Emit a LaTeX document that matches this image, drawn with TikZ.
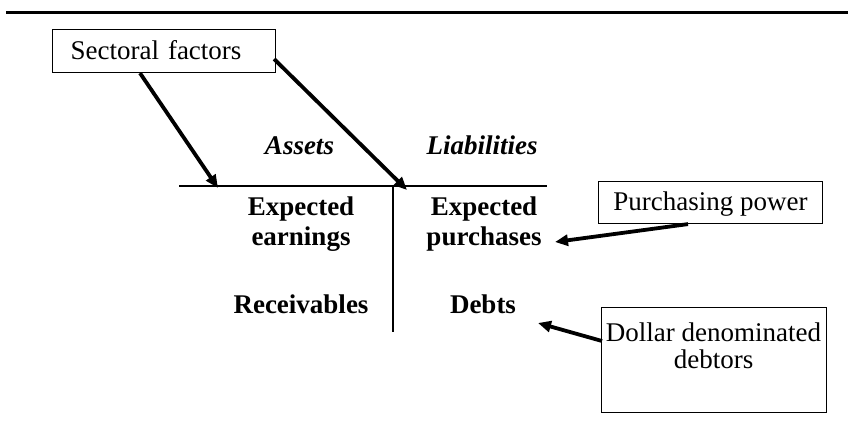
\documentclass[tikz,border=0pt]{standalone}
\usepackage{fontspec}
\setmainfont{Liberation Serif}
\usetikzlibrary{arrows.meta,calc}
\begin{document}
\begin{tikzpicture}[x=1pt,y=-1pt,
  every node/.style={inner sep=0pt, text=black},
  boxtext/.style={font=\fontsize{27}{27}\selectfont},
  box/.style={draw, line width=1.1pt},
  blbl/.style={font=\fontsize{27}{30}\selectfont\bfseries, align=center},
  head/.style={font=\fontsize{27}{30}\selectfont\bfseries\itshape},
  tline/.style={line width=1.3pt},
  conn/.style={line width=3.8pt, -{Triangle[length=13pt,width=11pt]}}]
\useasboundingbox (0,0) rectangle (848,422);
% top rule
\coordinate (r1) at (6,13);
\coordinate (r2) at (848,13);
\draw[line width=3pt] (r1) -- (r2);
% boxes
\node[box, boxtext, anchor=north west, minimum width=223pt, minimum height=43pt,
      text width=187pt, align=left, text depth=3pt] (sf) at (52,29) {Sectoral factors};
\node[box, boxtext, anchor=north west, minimum width=224pt, minimum height=42pt,
      align=center, text depth=3pt] (pp) at (598,181) {Purchasing power};
\node[box, anchor=north west, minimum width=225pt, minimum height=105pt] (dd) at (601,307) {};
\node[boxtext, align=center, anchor=north] (ddt) at (713.5,323) {Dollar denominated\\debtors};
% T account
\coordinate (hl) at (179,186);
\coordinate (hr) at (547,186);
\coordinate (vt) at (393,186);
\coordinate (vb) at (393,332);
\draw[tline] (hl) -- (hr);
\draw[tline] (vt) -- (vb);
\node[head, anchor=base] (as) at (299.5,155) {Assets};
\node[head, anchor=base] (li) at (482,155) {Liabilities};
\node[blbl, anchor=north] (ee) at (301,197) {Expected\\earnings};
\node[blbl, anchor=north] (ep) at (484,197) {Expected\\purchases};
\node[blbl, anchor=base] (rc) at (301,313) {Receivables};
\node[blbl, anchor=base] (db) at (483,313) {Debts};
% arrow tips
\coordinate (t1) at (218,188);
\coordinate (t2) at (407,190);
\coordinate (t3) at (555,242);
\coordinate (t4) at (538,323);
\draw[conn] ($(sf.south west)+(88,0)$) -- (t1);
\draw[conn] ($(sf.east)+(-2,8)$) -- (t2);
\draw[conn] ($(pp.south west)+(90,0)$) -- (t3);
\draw[conn] ($(dd.north west)+(1,34)$) -- (t4);
\end{tikzpicture}
\end{document}
